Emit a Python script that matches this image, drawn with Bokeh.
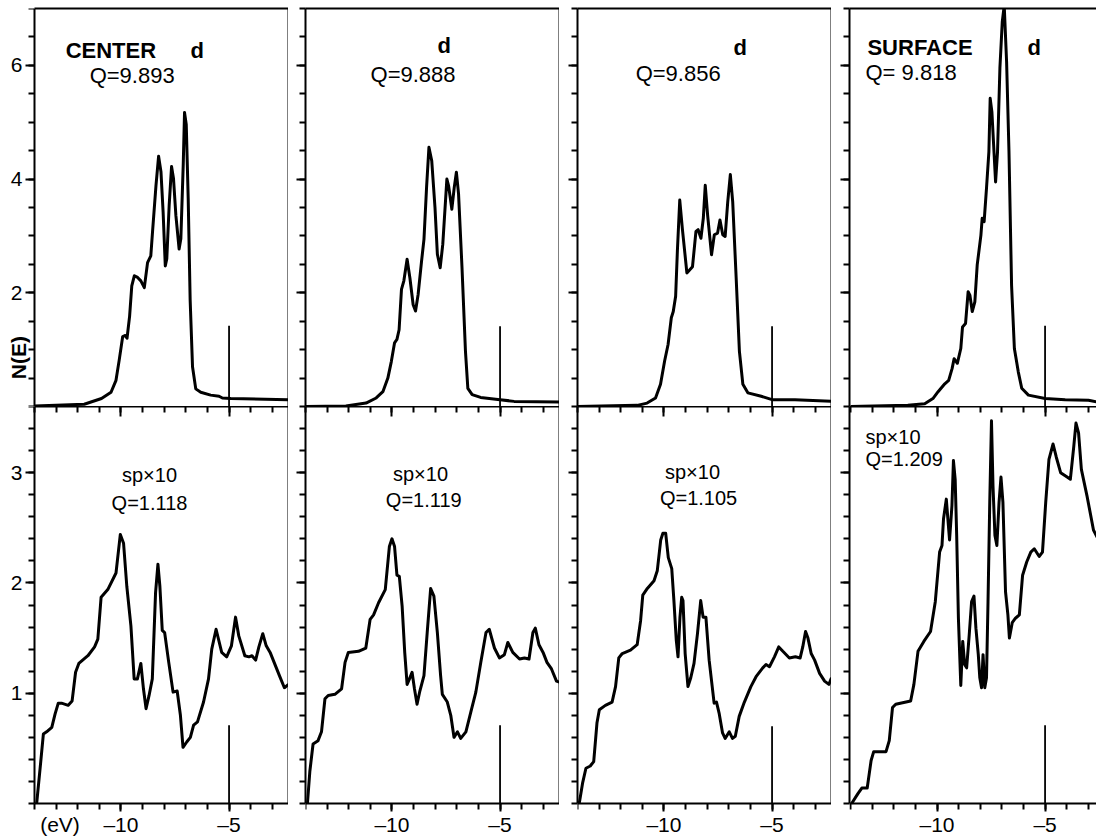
from bokeh.plotting import figure
from bokeh.models import Range1d, FixedTicker, LinearAxis, Label
from bokeh.layouts import gridplot
from bokeh.embed import file_html
from bokeh.resources import INLINE

FONT = "Liberation Sans"

# ---------------- data (energy in eV, N(E)) ----------------
d_center_e = [-14.0, -11.7, -10.9, -10.46, -10.23, -10.08, -9.92, -9.8, -9.72, -9.6, -9.5, -9.38, -9.23,
              -9.08, -8.92, -8.77, -8.62, -8.54, -8.38, -8.26, -8.15, -8.05, -7.95, -7.88, -7.77, -7.66,
              -7.57, -7.46, -7.31, -7.23, -7.12, -7.06, -6.98, -6.89, -6.8, -6.69, -6.54, -6.31, -5.85,
              -5.46, -5.31, -4.92, -2.25]
d_center_n = [0.01, 0.04, 0.14, 0.25, 0.46, 0.82, 1.23, 1.25, 1.2, 1.59, 2.12, 2.3, 2.27, 2.21, 2.09, 2.53,
              2.65, 3.07, 3.89, 4.4, 4.13, 3.42, 2.47, 2.6, 3.54, 4.22, 4.01, 3.36, 2.77, 2.95, 4.25, 5.17,
              4.96, 3.66, 1.88, 0.7, 0.31, 0.25, 0.2, 0.18, 0.15, 0.14, 0.12]

d_layer2_e = [-14.0, -12.13, -11.2, -10.73, -10.42, -10.19, -10.03, -9.88, -9.77, -9.67, -9.56, -9.45, -9.3,
              -9.17, -9.02, -8.91, -8.79, -8.63, -8.52, -8.4, -8.29, -8.16, -8.01, -7.9, -7.77, -7.65, -7.46,
              -7.38, -7.23, -7.12, -7.02, -6.92, -6.76, -6.6, -6.49, -6.29, -5.9, -5.0, -4.35, -2.25]
d_layer2_n = [0.0, 0.01, 0.06, 0.15, 0.26, 0.5, 0.79, 1.12, 1.18, 1.35, 2.06, 2.21, 2.59, 2.26, 1.79, 1.68,
              1.97, 2.56, 2.94, 3.85, 4.56, 4.32, 3.5, 2.68, 2.44, 2.85, 4.0, 3.88, 3.47, 3.85, 4.12, 3.74,
              2.44, 0.97, 0.32, 0.21, 0.16, 0.12, 0.09, 0.08]

d_layer3_e = [-14.0, -11.24, -10.78, -10.39, -10.16, -9.97, -9.81, -9.66, -9.57, -9.46, -9.38, -9.27, -9.15,
              -8.94, -8.68, -8.52, -8.42, -8.29, -8.18, -8.09, -7.98, -7.8, -7.67, -7.52, -7.41, -7.28, -7.17,
              -7.05, -6.93, -6.82, -6.66, -6.51, -6.35, -6.12, -5.5, -5.0, -3.94, -2.25]
d_layer3_n = [0.0, 0.02, 0.06, 0.15, 0.39, 0.8, 1.09, 1.56, 1.67, 1.94, 2.73, 3.63, 3.13, 2.35, 2.46, 3.08,
              3.11, 2.96, 3.31, 3.89, 3.36, 2.67, 3.02, 3.05, 3.28, 3.02, 2.99, 3.6, 4.08, 3.6, 2.26, 0.97,
              0.39, 0.24, 0.18, 0.12, 0.12, 0.09]

d_surface_e = [-14.0, -11.35, -10.57, -10.19, -9.95, -9.64, -9.46, -9.3, -9.21, -9.06, -8.9, -8.82, -8.68,
               -8.56, -8.48, -8.37, -8.25, -8.14, -7.97, -7.91, -7.82, -7.71, -7.6, -7.54, -7.46, -7.38,
               -7.29, -7.2, -7.09, -6.98, -6.89, -6.78, -6.67, -6.55, -6.42, -6.24, -6.08, -5.77, -5.0,
               -4.07, -2.99, -2.57]
d_surface_n = [0.0, 0.02, 0.05, 0.14, 0.26, 0.4, 0.46, 0.67, 0.84, 0.76, 1.02, 1.4, 1.46, 2.02, 1.96, 1.67,
               1.84, 2.49, 3.01, 3.31, 3.25, 3.84, 4.48, 5.42, 5.18, 4.6, 3.95, 4.48, 5.95, 6.77, 7.05, 6.06,
               4.48, 2.13, 1.02, 0.61, 0.32, 0.2, 0.14, 0.12, 0.11, 0.08]

sp_center_e = [-13.9, -13.74, -13.59, -13.44, -13.2, -13.05, -12.9, -12.75, -12.44, -12.26, -12.1, -11.95,
               -11.53, -11.22, -11.07, -10.92, -10.61, -10.23, -10.03, -9.88, -9.73, -9.54, -9.39, -9.24,
               -9.08, -8.96, -8.84, -8.7, -8.55, -8.4, -8.29, -8.2, -8.09, -7.98, -7.79, -7.59, -7.4, -7.25,
               -7.13, -6.95, -6.79, -6.64, -6.46, -6.18, -5.95, -5.8, -5.6, -5.34, -5.11, -4.89, -4.7, -4.55,
               -4.27, -4.08, -3.94, -3.77, -3.62, -3.44, -3.28, -3.1, -2.67, -2.44, -2.25]
sp_center_n = [0.0, 0.32, 0.63, 0.65, 0.69, 0.81, 0.91, 0.91, 0.89, 0.93, 1.19, 1.27, 1.34, 1.42, 1.49, 1.87,
               1.94, 2.09, 2.44, 2.36, 1.97, 1.61, 1.13, 1.13, 1.27, 1.04, 0.86, 0.98, 1.13, 1.91, 2.17, 1.97,
               1.57, 1.55, 1.28, 1.01, 1.02, 0.8, 0.51, 0.56, 0.6, 0.71, 0.74, 0.92, 1.13, 1.4, 1.58, 1.37,
               1.33, 1.43, 1.69, 1.52, 1.34, 1.33, 1.34, 1.3, 1.42, 1.54, 1.43, 1.37, 1.16, 1.05, 1.08]

sp_layer2_e = [-13.91, -13.8, -13.65, -13.42, -13.26, -13.1, -12.95, -12.64, -12.33, -12.17, -12.02, -11.55,
               -11.21, -11.01, -10.85, -10.62, -10.31, -10.12, -10.0, -9.88, -9.77, -9.66, -9.53, -9.41, -9.3,
               -9.19, -9.07, -8.96, -8.84, -8.71, -8.52, -8.37, -8.21, -8.06, -7.9, -7.75, -7.67, -7.44, -7.28,
               -7.13, -6.97, -6.82, -6.58, -6.35, -6.12, -5.89, -5.65, -5.5, -5.26, -5.03, -4.8, -4.64, -4.41,
               -4.1, -3.87, -3.66, -3.48, -3.37, -3.2, -3.01, -2.83, -2.62, -2.39, -2.25]
sp_layer2_n = [0.0, 0.29, 0.54, 0.57, 0.65, 0.95, 0.98, 0.99, 1.04, 1.28, 1.37, 1.38, 1.41, 1.67, 1.71, 1.82,
               1.94, 2.33, 2.4, 2.33, 2.07, 2.06, 1.79, 1.37, 1.08, 1.13, 1.19, 1.04, 0.9, 1.02, 1.16, 1.55,
               1.95, 1.88, 1.55, 1.16, 0.99, 0.92, 0.8, 0.6, 0.65, 0.59, 0.65, 0.83, 1.01, 1.28, 1.55, 1.58,
               1.41, 1.32, 1.35, 1.46, 1.37, 1.31, 1.32, 1.31, 1.55, 1.59, 1.44, 1.37, 1.28, 1.22, 1.11, 1.1]

sp_layer3_e = [-13.92, -13.76, -13.61, -13.41, -13.25, -13.1, -12.99, -12.71, -12.4, -12.24, -12.09, -11.93,
               -11.55, -11.24, -11.08, -10.98, -10.77, -10.46, -10.31, -10.15, -10.05, -9.92, -9.8, -9.64,
               -9.54, -9.43, -9.35, -9.26, -9.18, -9.12, -9.02, -8.89, -8.76, -8.61, -8.45, -8.3, -8.19,
               -8.06, -7.91, -7.68, -7.57, -7.45, -7.29, -7.17, -6.98, -6.83, -6.7, -6.52, -6.28, -5.98,
               -5.74, -5.43, -5.28, -5.12, -4.89, -4.69, -4.5, -4.2, -3.92, -3.7, -3.58, -3.45, -3.34, -3.19,
               -3.03, -2.8, -2.57, -2.37, -2.25]
sp_layer3_n = [0.0, 0.19, 0.32, 0.34, 0.38, 0.73, 0.85, 0.89, 0.92, 1.06, 1.32, 1.36, 1.39, 1.44, 1.66, 1.89,
               1.95, 2.02, 2.11, 2.39, 2.45, 2.45, 2.23, 2.13, 1.84, 1.48, 1.33, 1.69, 1.87, 1.84, 1.36, 1.06,
               1.14, 1.27, 1.54, 1.84, 1.69, 1.69, 1.3, 0.91, 0.92, 0.82, 0.64, 0.59, 0.65, 0.59, 0.61, 0.79,
               0.92, 1.06, 1.15, 1.23, 1.26, 1.24, 1.33, 1.42, 1.38, 1.32, 1.33, 1.32, 1.42, 1.56, 1.5, 1.36,
               1.3, 1.18, 1.11, 1.08, 1.14]

sp_surface_e = [-13.95, -13.66, -13.48, -13.23, -13.05, -12.93, -12.36, -12.21, -12.06, -11.91, -11.22, -11.07,
                -10.88, -10.61, -10.3, -10.08, -9.88, -9.77, -9.7, -9.57, -9.51, -9.42, -9.31, -9.24, -9.16,
                -9.09, -9.01, -8.9, -8.81, -8.72, -8.63, -8.51, -8.4, -8.29, -8.2, -8.09, -8.02, -7.94, -7.87,
                -7.79, -7.71, -7.64, -7.56, -7.48, -7.41, -7.32, -7.23, -7.13, -7.04, -6.95, -6.83, -6.72,
                -6.65, -6.52, -6.37, -6.19, -6.04, -5.85, -5.66, -5.5, -5.27, -5.12, -4.97, -4.82, -4.63,
                -4.48, -4.28, -3.98, -3.83, -3.67, -3.57, -3.45, -3.32, -3.06, -2.76, -2.5]
sp_surface_n = [0.0, 0.09, 0.14, 0.14, 0.39, 0.47, 0.47, 0.57, 0.87, 0.9, 0.93, 1.08, 1.38, 1.47, 1.56, 1.83,
                2.28, 2.34, 2.58, 2.76, 2.61, 2.39, 2.7, 3.11, 2.94, 2.43, 1.68, 1.07, 1.47, 1.26, 1.23, 1.53,
                1.83, 1.88, 1.59, 1.35, 1.14, 1.05, 1.35, 1.05, 1.14, 1.83, 2.73, 3.47, 2.88, 2.43, 2.34, 2.73,
                2.96, 2.73, 1.92, 1.71, 1.5, 1.64, 1.68, 1.71, 2.07, 2.19, 2.28, 2.31, 2.24, 2.28, 2.73, 3.12,
                3.26, 3.14, 3.0, 2.96, 2.94, 3.24, 3.45, 3.36, 3.03, 2.79, 2.48, 2.38]

# Fermi-level markers
fermi_e = -5.0
fermi_mark_d = [1.42, 1.41, 1.41, 1.42]
fermi_mark_sp = [0.71, 0.71, 0.70, 0.71]

# charges
q_d = ["Q=9.893", "Q=9.888", "Q=9.856", "Q= 9.818"]
q_sp = ["Q=1.118", "Q=1.119", "Q=1.105", "Q=1.209"]

# ticks
e_major = [-10, -5]
e_minor = [-14, -13, -12, -11, -10, -9, -8, -7, -6, -5, -4, -3]
e_labels = {-10: "\u201310", -5: "\u20135"}
d_major = [2, 4, 6]
d_minor = [0, 0.5, 1, 1.5, 2, 2.5, 3, 3.5, 4, 4.5, 5, 5.5, 6, 6.5, 7]
sp_major = [1, 2, 3]
sp_minor = [0, 0.2, 0.4, 0.6, 0.8, 1.0, 1.2, 1.4, 1.6, 1.8, 2.0, 2.2, 2.4, 2.6, 2.8, 3.0, 3.2, 3.4, 3.6]

E_LO = -14.0
E_HI = -2.25
E_LO_LAST = -14.05
E_HI_LAST = -2.62
E_LO_FIRST = -15.573          # first column frame extends over the tick-label margin
D_LO, D_HI = 0.0, 7.0
SP_LO, SP_HI = -0.2992, 3.6   # bottom row frame extends over the tick-label strip

# layout (pixels)
WIDTHS = [288, 271, 272, 265]
LEFTS = [0, 17, 18, 18]
TOP_H = 406
BOT_H = 430
LW = 2


def style_axis(ax, show_labels, major_out, minor_out, major_in=0, minor_in=0, overrides=None, standoff=3):
    ax.axis_line_color = "black"
    ax.axis_line_width = LW
    ax.major_tick_line_color = "black"
    ax.minor_tick_line_color = "black"
    ax.major_tick_line_width = LW
    ax.minor_tick_line_width = LW
    ax.major_tick_out = major_out
    ax.minor_tick_out = minor_out
    ax.major_tick_in = major_in
    ax.minor_tick_in = minor_in
    if show_labels:
        ax.major_label_text_font = FONT
        ax.major_label_text_font_size = "21px"
        ax.major_label_text_color = "black"
        ax.major_label_standoff = standoff
        if overrides:
            ax.major_label_overrides = overrides
    else:
        ax.major_label_text_font_size = "0px"
        ax.major_label_standoff = 0
        ax.major_label_text_alpha = 0


def line_axis(p, side, bounds=None):
    a = LinearAxis(ticker=FixedTicker(ticks=[], minor_ticks=[]))
    style_axis(a, False, 0, 0)
    if bounds is not None:
        a.bounds = bounds
    p.add_layout(a, side)
    return a


def make_fig(i, height, yr, top):
    if i == 0:
        xr = (E_LO_FIRST, E_HI)
    elif i == 3:
        xr = (E_LO_LAST, E_HI_LAST)
    else:
        xr = (E_LO, E_HI)
    p = figure(width=WIDTHS[i], height=height, x_range=Range1d(*xr), y_range=Range1d(*yr),
               x_axis_type=None, y_axis_type=None, output_backend="svg", toolbar_location=None,
               min_border_left=LEFTS[i], min_border_right=0, min_border_top=top, min_border_bottom=0)
    p.background_fill_color = "white"
    p.border_fill_color = "white"
    p.outline_line_color = None
    return p


def add_text(p, x, y, text, size, bold=False, align="left", angle=0, baseline="alphabetic"):
    p.add_layout(Label(x=x, y=y, text=text, text_font=FONT, text_font_size=size,
                       text_font_style="bold" if bold else "normal", text_color="black",
                       text_align=align, text_baseline=baseline, angle=angle, angle_units="deg"))


d_series = [(d_center_e, d_center_n), (d_layer2_e, d_layer2_n), (d_layer3_e, d_layer3_n),
            (d_surface_e, d_surface_n)]
sp_series = [(sp_center_e, sp_center_n), (sp_layer2_e, sp_layer2_n), (sp_layer3_e, sp_layer3_n),
             (sp_surface_e, sp_surface_n)]

top_row = []
bot_row = []
for i in range(4):
    first = (i == 0)
    last = (i == 3)
    x_left = E_LO_LAST if last else E_LO
    x_right = E_HI_LAST if last else E_HI

    # ---------- d panel ----------
    t = make_fig(i, TOP_H, (D_LO, D_HI), 8)
    ya = LinearAxis(ticker=FixedTicker(ticks=d_major, minor_ticks=d_minor), bounds=(D_LO, D_HI))
    style_axis(ya, first, 9, 6)
    if first:
        ya.fixed_location = E_LO
    t.add_layout(ya, "left")
    line_axis(t, "above", (x_left, x_right))
    if not last:
        line_axis(t, "right")
    ex, ny = d_series[i]
    t.line(ex, ny, line_color="black", line_width=3, line_join="round")
    t.segment(x0=[fermi_e], y0=[0], x1=[fermi_e], y1=[fermi_mark_d[i]], line_color="black", line_width=1.8)

    # ---------- sp panel ----------
    b = make_fig(i, BOT_H, (SP_LO, SP_HI), 0)
    ya2 = LinearAxis(ticker=FixedTicker(ticks=sp_major, minor_ticks=sp_minor), bounds=(0, SP_HI))
    style_axis(ya2, first, 9, 6)
    if first:
        ya2.fixed_location = E_LO
    b.add_layout(ya2, "left")
    xa_top = LinearAxis(ticker=FixedTicker(ticks=e_major, minor_ticks=e_minor), bounds=(x_left, x_right))
    style_axis(xa_top, False, 0, 0, major_in=10, minor_in=6)
    b.add_layout(xa_top, "above")
    xa = LinearAxis(ticker=FixedTicker(ticks=e_major, minor_ticks=e_minor), bounds=(x_left, x_right))
    style_axis(xa, True, 8, 6, overrides=e_labels, standoff=1)
    xa.fixed_location = 0
    b.add_layout(xa, "below")
    if not last:
        line_axis(b, "right", (0, SP_HI))
    ex2, ny2 = sp_series[i]
    b.line(ex2, ny2, line_color="black", line_width=3, line_join="round")
    b.segment(x0=[fermi_e], y0=[0], x1=[fermi_e], y1=[fermi_mark_sp[i]], line_color="black", line_width=1.8)

    top_row.append(t)
    bot_row.append(b)

# ---------- annotations ----------
t1, t2, t3, t4 = top_row
b1, b2, b3, b4 = bot_row
add_text(t1, -12.56, 6.26, "CENTER", "22px", bold=True)
add_text(t1, -6.78, 6.26, "d", "22px", bold=True)
add_text(t1, -11.45, 5.82, q_d[0], "22px")
add_text(t2, -7.89, 6.35, "d", "22px", bold=True)
add_text(t2, -10.99, 5.84, q_d[1], "22px")
add_text(t3, -6.78, 6.31, "d", "22px", bold=True)
add_text(t3, -11.31, 5.86, q_d[2], "22px")
add_text(t4, -13.22, 6.31, "SURFACE", "22px", bold=True)
add_text(t4, -5.81, 6.31, "d", "22px", bold=True)
add_text(t4, -13.31, 5.87, q_d[3], "22px")

add_text(b1, -8.68, 2.983, "sp\u00d710", "20px", align="center")
add_text(b1, -8.68, 2.729, q_sp[0], "20px", align="center")
add_text(b2, -8.68, 2.992, "sp\u00d710", "20px", align="center")
add_text(b2, -8.53, 2.748, q_sp[1], "20px", align="center")
add_text(b3, -8.68, 3.01, "sp\u00d710", "20px", align="center")
add_text(b3, -8.4, 2.766, q_sp[2], "20px", align="center")
add_text(b4, -13.31, 3.319, "sp\u00d710", "20px")
add_text(b4, -13.31, 3.128, q_sp[3], "20px")

add_text(t1, -14.72, 0.86, "N(E)", "21px", bold=True, align="center", angle=90, baseline="middle")
add_text(b1, -12.82, -0.085, "(eV)", "21px", align="center", baseline="top")

p = gridplot([top_row, bot_row], toolbar_location=None)

open("out.html", "w").write(file_html(p, INLINE, title="N(E) d and sp densities of states"))
